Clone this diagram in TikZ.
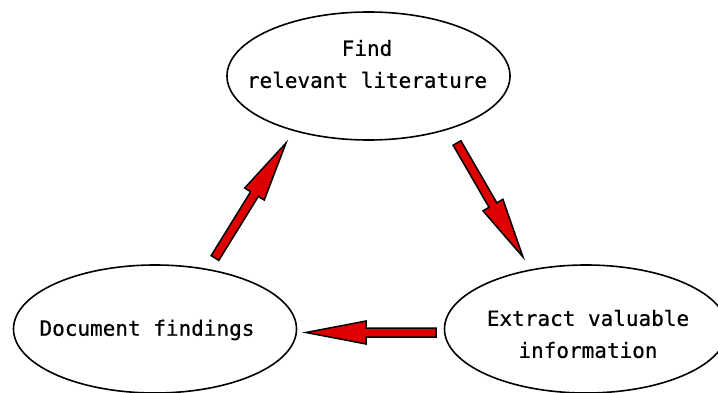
\documentclass[tikz,border=0pt]{standalone}
\usepackage{fontspec}
\setmonofont[FakeBold=0.6]{DejaVu Sans Mono}
\usetikzlibrary{shapes.geometric,calc}
\definecolor{arrowred}{RGB}{220,0,0}
\tikzset{
  stage/.style={draw=black, line width=1.6pt, ellipse, inner sep=0pt,
    minimum width=283pt, minimum height=128pt},
  stagetext/.style={align=center, font=\ttfamily\fontsize{21}{32}\selectfont},
  blockarrow/.style={draw=black, fill=arrowred, line width=1.5pt, line join=miter}
}
% thick red block arrow from #1 (tail) to #2 (tip)
\newcommand\blockarrowdraw[2]{%
  \coordinate (#1-#2-base) at ($(#2)!60pt!(#1)$);
  \draw[blockarrow]
    ($(#1)!4.5pt!90:(#2)$) -- ($(#1-#2-base)!4.5pt!90:(#2)$)
    -- ($(#1-#2-base)!11.5pt!90:(#2)$) -- (#2)
    -- ($(#1-#2-base)!11.5pt!-90:(#2)$) -- ($(#1-#2-base)!4.5pt!-90:(#2)$)
    -- ($(#1)!4.5pt!-90:(#2)$) -- cycle;}
\begin{document}
\begin{tikzpicture}[x=1pt, y=-1pt]
  \useasboundingbox (0,0) rectangle (718,393);
  \clip (0,0) rectangle (718,393);
  \fill[white] (0,0) rectangle (718,393);

  \node[stage] (find) at (368.5,76) {};
  \node[stagetext] (findtxt) at (367,64) {Find\\relevant literature};

  \node[stage] (doc) at (155,329) {};
  \node[stagetext] (doctxt) at (147,330) {Document findings};

  \node[stage] (extract) at (586,329) {};
  \node[stagetext] (extracttxt) at (588,334) {Extract valuable\\information};

  \coordinate (a1t) at (457,143);
  \coordinate (a1h) at (523,257);
  \coordinate (a2t) at (436,332.5);
  \coordinate (a2h) at (306,332.5);
  \coordinate (a3t) at (215,258);
  \coordinate (a3h) at (286,143);

  \blockarrowdraw{a1t}{a1h}
  \blockarrowdraw{a2t}{a2h}
  \blockarrowdraw{a3t}{a3h}
\end{tikzpicture}
\end{document}
